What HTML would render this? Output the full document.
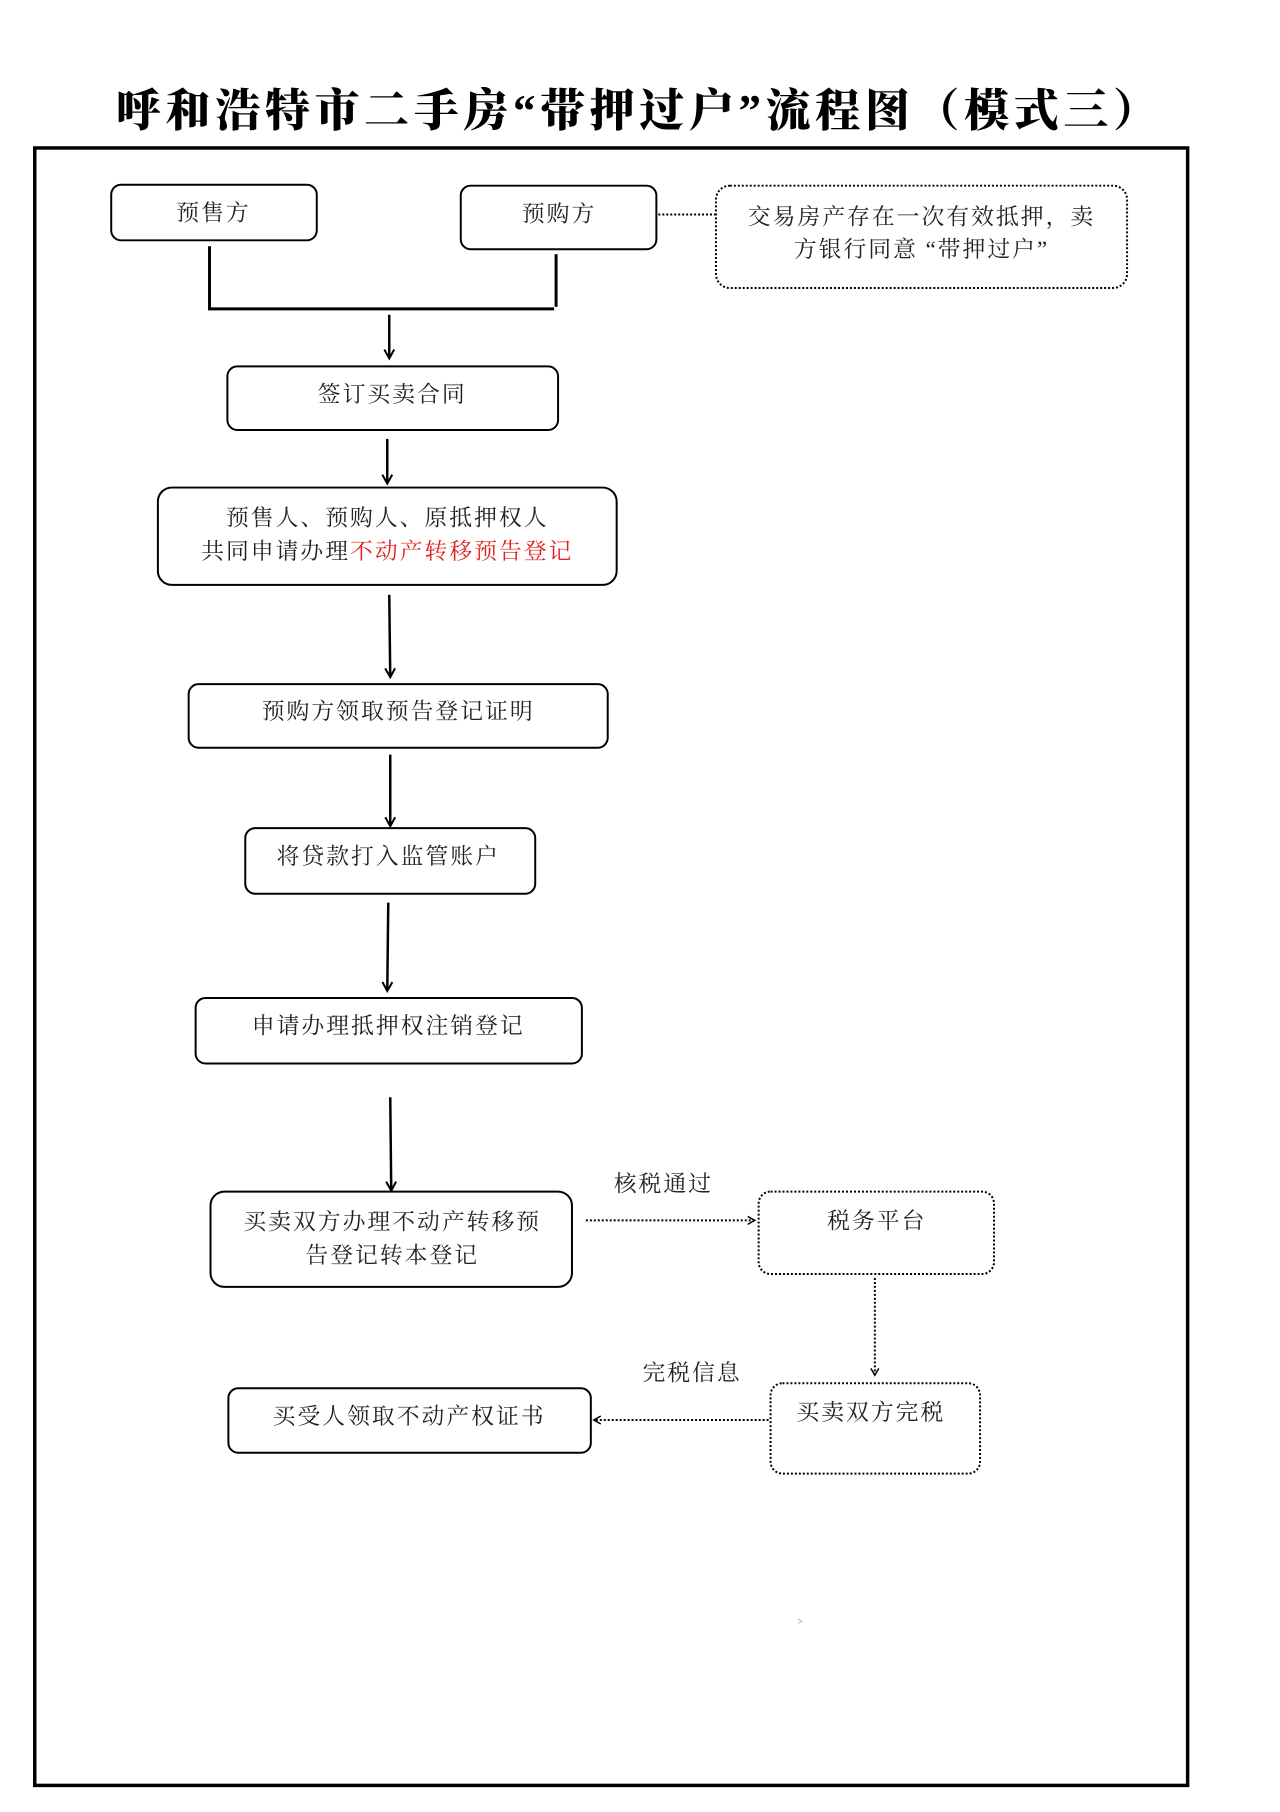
<!DOCTYPE html>
<html><head><meta charset="utf-8"><style>
html,body{margin:0;padding:0;background:#fff}
svg{display:block}
text{font-family:"Liberation Serif","Noto Serif CJK SC",serif;font-size:23px;fill:#222;letter-spacing:2px}
.t{font-family:"Liberation Serif","Noto Serif CJK SC",serif;font-size:45px;font-weight:900;fill:#000;letter-spacing:0}
</style></head><body>
<svg width="1280" height="1812" viewBox="0 0 1280 1812" xmlns="http://www.w3.org/2000/svg">
<defs>
<marker id="a" markerWidth="12" markerHeight="12" refX="10" refY="6" orient="auto" markerUnits="userSpaceOnUse"><path d="M1,1 L10,6 L1,11" fill="none" stroke="#000" stroke-width="2"/></marker>
<marker id="s" markerWidth="10" markerHeight="10" refX="8" refY="5" orient="auto" markerUnits="userSpaceOnUse"><path d="M1,1 L8,5 L1,9" fill="none" stroke="#000" stroke-width="1.5"/></marker>
</defs>
<text class="t" x="116" y="126" textLength="1042" lengthAdjust="spacing">呼和浩特市二手房“带押过户”流程图（模式三）</text>
<g transform="scale(0.993)">
<rect x="35" y="149" width="1161" height="1649" fill="none" stroke="#000" stroke-width="3.5"/>
<g fill="#fff" stroke="#000" stroke-width="2">
<rect x="112" y="186" width="207" height="56" rx="10"/>
<rect x="464" y="187" width="197" height="64" rx="10"/>
<rect x="229" y="369" width="333" height="64" rx="10"/>
<rect x="159" y="491" width="462" height="98" rx="14"/>
<rect x="190" y="689" width="422" height="64" rx="10"/>
<rect x="247" y="834" width="292" height="66" rx="10"/>
<rect x="197" y="1005" width="389" height="66" rx="10"/>
<rect x="212" y="1200" width="364" height="96" rx="14"/>
<rect x="230" y="1398" width="365" height="65" rx="10"/>
</g>
<g fill="none" stroke="#000" stroke-width="2" stroke-dasharray="2,2">
<rect x="721" y="187" width="414" height="103" rx="14"/>
<rect x="764" y="1200" width="237" height="83" rx="12"/>
<rect x="776" y="1393" width="211" height="91" rx="12"/>
<line x1="663" y1="216" x2="721" y2="216"/>
<line x1="590" y1="1229" x2="760" y2="1229" marker-end="url(#s)"/>
<line x1="881" y1="1287" x2="881" y2="1385" marker-end="url(#s)"/>
<line x1="774" y1="1430" x2="598" y2="1430" marker-end="url(#s)"/>
</g>
<g stroke="#000" stroke-width="3" fill="none">
<polyline points="211,248 211,311 558,311"/>
<line x1="560" y1="256" x2="560" y2="309"/>
</g>
<g stroke="#000" stroke-width="2.5" fill="none">
<line x1="392" y1="317" x2="392" y2="361" marker-end="url(#a)"/>
<line x1="390" y1="442" x2="390" y2="487" marker-end="url(#a)"/>
<line x1="392" y1="599" x2="393" y2="682" marker-end="url(#a)"/>
<line x1="393" y1="760" x2="393" y2="832" marker-end="url(#a)"/>
<line x1="391" y1="909" x2="390" y2="998" marker-end="url(#a)"/>
<line x1="393" y1="1105" x2="394" y2="1199" marker-end="url(#a)"/>
</g>
<text x="215" y="222" text-anchor="middle">预售方</text>
<text x="563" y="223" text-anchor="middle">预购方</text>
<text x="928" y="226" text-anchor="middle">交易房产存在一次有效抵押，卖</text>
<text x="928" y="259" text-anchor="middle">方银行同意 “带押过户”</text>
<text x="395" y="405" text-anchor="middle">签订买卖合同</text>
<text x="390" y="529" text-anchor="middle">预售人、预购人、原抵押权人</text>
<text x="390" y="563" text-anchor="middle">共同申请办理<tspan fill="#e02020">不动产转移预告登记</tspan></text>
<text x="401" y="724" text-anchor="middle">预购方领取预告登记证明</text>
<text x="391" y="870" text-anchor="middle">将贷款打入监管账户</text>
<text x="391" y="1041" text-anchor="middle">申请办理抵押权注销登记</text>
<text x="395" y="1238" text-anchor="middle">买卖双方办理不动产转移预</text>
<text x="395" y="1272" text-anchor="middle">告登记转本登记</text>
<text x="668" y="1200" text-anchor="middle">核税通过</text>
<text x="883" y="1237" text-anchor="middle">税务平台</text>
<text x="697" y="1390" text-anchor="middle">完税信息</text>
<text x="877" y="1430" text-anchor="middle">买卖双方完税</text>
<text x="412" y="1434" text-anchor="middle">买受人领取不动产权证书</text>
<text x="803" y="1636" style="font-size:10px;fill:#4a6fd0">&gt;</text>
</g>
</svg>
</body></html>
